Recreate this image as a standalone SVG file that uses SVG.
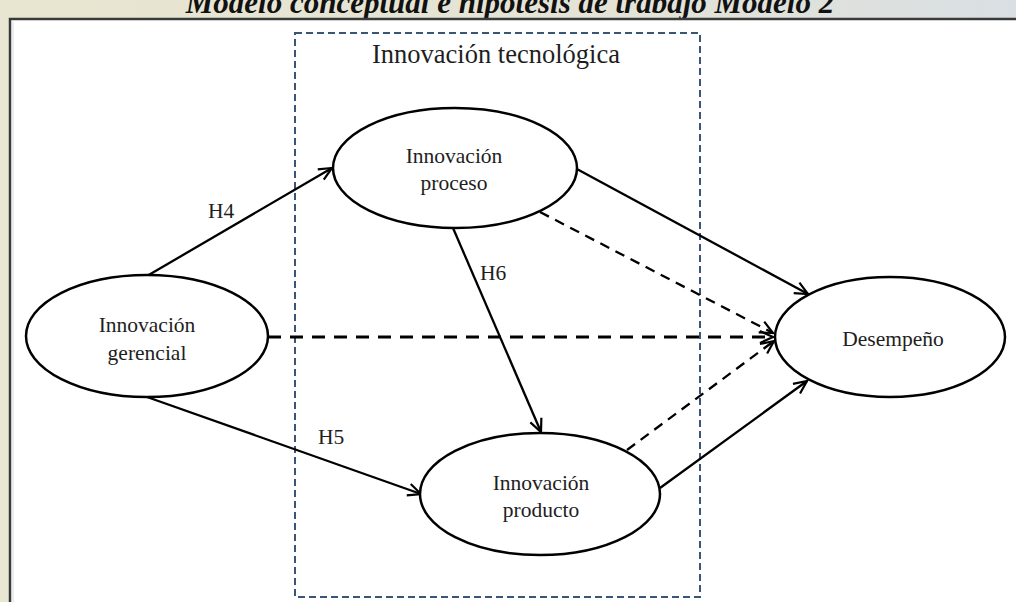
<svg xmlns="http://www.w3.org/2000/svg" width="1016" height="602" viewBox="0 0 1016 602">
  <defs>
    <linearGradient id="bgTop" x1="0" y1="0" x2="1" y2="0">
      <stop offset="0" stop-color="#e8e6d0"/>
      <stop offset="0.6" stop-color="#e4e3d6"/>
      <stop offset="1" stop-color="#d9dfe3"/>
    </linearGradient>
    <marker id="arr" markerUnits="userSpaceOnUse" markerWidth="18" markerHeight="18" refX="14" refY="7" orient="auto" viewBox="0 0 18 14">
      <path d="M1,1 L14,7 L1,13" fill="none" stroke="#000" stroke-width="2.2" stroke-linejoin="miter"/>
    </marker>
    <style>
      .node ellipse { fill: #fff; stroke: #000; stroke-width: 2.5; }
      .node text, .lbl { font-family: "Liberation Serif", "Times New Roman", serif; font-size: 21.5px; fill: #1e1e1e; text-anchor: middle; }
      .lbl { text-anchor: start; }
      .solid { stroke: #000; stroke-width: 2.3; fill: none; marker-end: url(#arr); }
      .dash { stroke: #000; stroke-width: 2.3; fill: none; stroke-dasharray: 10 7; marker-end: url(#arr); }
      .dashH { stroke: #000; stroke-width: 3; fill: none; stroke-dasharray: 13 9; marker-end: url(#arr); }
    </style>
  </defs>

  <!-- background -->
  <rect x="0" y="0" width="1016" height="602" fill="#e9e7d4"/>
  <rect x="0" y="0" width="1016" height="22" fill="url(#bgTop)"/>
  <text x="510" y="13" font-family="Liberation Serif, serif" font-size="31" font-weight="bold" font-style="italic" text-anchor="middle" fill="#111">Modelo conceptual e hipótesis de trabajo Modelo 2</text>

  <!-- frame -->
  <rect x="10" y="19" width="1030" height="620" fill="#ffffff" stroke="#3a3a3a" stroke-width="2.5"/>
  <line x1="13" y1="22" x2="13" y2="602" stroke="#ececec" stroke-width="2"/>

  <!-- technological innovation group -->
  <g id="grupo-tecnologica">
    <rect x="295" y="33" width="405" height="564" fill="none" stroke="#3b5577" stroke-width="2" stroke-dasharray="7 4"/>
    <text x="496" y="63" font-family="Liberation Serif, serif" font-size="26.5" text-anchor="middle" fill="#1e1e1e">Innovación tecnológica</text>
  </g>

  <!-- connectors -->
  <g id="connectors">
    <line class="dashH" x1="268" y1="337" x2="773" y2="337"/>
    <line class="solid" x1="147" y1="276" x2="332" y2="168"/>
    <line class="solid" x1="147" y1="397" x2="421" y2="494"/>
    <line class="solid" x1="453" y1="228" x2="541" y2="432"/>
    <line class="solid" x1="575" y1="168" x2="808" y2="294"/>
    <line class="dash" x1="540" y1="212" x2="773" y2="333"/>
    <line class="dash" x1="627" y1="450" x2="774" y2="341"/>
    <line class="solid" x1="660" y1="488" x2="807" y2="381"/>
    <text class="lbl" x="208" y="218">H4</text>
    <text class="lbl" x="318" y="444">H5</text>
    <text class="lbl" x="480" y="280">H6</text>
  </g>

  <g id="innovacion-gerencial" class="node">
    <ellipse cx="147" cy="336" rx="121" ry="61"/>
    <text x="147" y="332">Innovación</text>
    <text x="147" y="360">gerencial</text>
  </g>

  <g id="innovacion-proceso" class="node">
    <ellipse cx="455" cy="168" rx="122" ry="60"/>
    <text x="454" y="163">Innovación</text>
    <text x="454" y="190">proceso</text>
  </g>

  <g id="innovacion-producto" class="node">
    <ellipse cx="540" cy="494" rx="120" ry="61"/>
    <text x="541" y="490">Innovación</text>
    <text x="541" y="517">producto</text>
  </g>

  <g id="desempeno" class="node">
    <ellipse cx="890" cy="337" rx="115" ry="60"/>
    <text x="893" y="346">Desempeño</text>
  </g>
</svg>
